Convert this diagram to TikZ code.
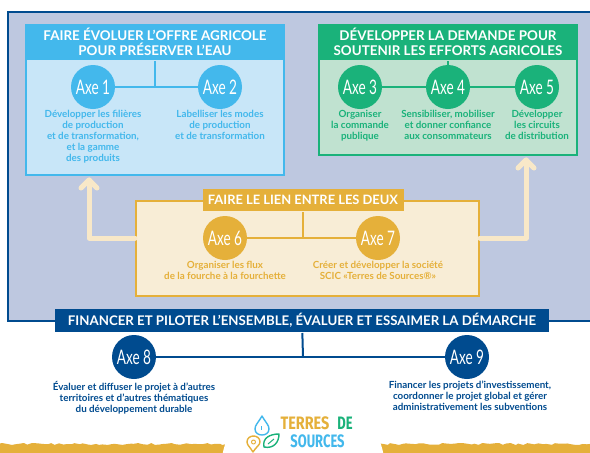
\documentclass[tikz,border=0pt]{standalone}
\usepackage{fontspec}
\setmainfont{Lato}
\newfontfamily\logofont{Fira Sans}
\usetikzlibrary{decorations.pathmorphing}
\definecolor{fond}{HTML}{BEC8E0}
\definecolor{marine}{HTML}{004B8F}
\definecolor{ciel}{HTML}{43B8EC}
\definecolor{cielclair}{HTML}{C8E6F8}
\definecolor{vert}{HTML}{1AB27A}
\definecolor{vertclair}{HTML}{C0E2D0}
\definecolor{jaune}{HTML}{E5B03A}
\definecolor{jauneclair}{HTML}{F8EDD6}
\definecolor{fleche}{HTML}{F8E8C8}
\newcommand{\axelabel}[1]{\scalebox{0.68}[1]{Axe #1}}

\begin{document}
\begin{tikzpicture}[x=1pt,y=-1pt]
    \tikzstyle{cadre} = [draw=marine,line width=2pt,fill=fond,inner sep=0pt]
    \tikzstyle{boite} = [line width=2pt,inner sep=0pt]
    \tikzstyle{titre} = [text=white,font=\fontsize{13.4}{13.4}\selectfont\bfseries,align=center,inner sep=0pt]
    \tikzstyle{axe} = [circle,minimum size=44pt,inner sep=0pt,text=white,font=\fontsize{20}{20}\selectfont]
    \tikzstyle{desc} = [align=center,inner sep=0pt,font=\fontsize{9.8}{11}\selectfont\bfseries]
    \tikzstyle{lien} = [line width=2pt]
    \tikzstyle{fl} = [line width=5pt,draw=fleche,line join=round,line cap=round]
    \tikzstyle{logo} = [inner sep=0pt,font=\logofont\fontsize{18}{18}\selectfont\bfseries]
    \tikzstyle{icone} = [line width=1.4pt,line join=round]

    \clip (0,0) rectangle (590,453);
    \fill[white] (0,0) rectangle (590,453);

    % herbe et logo
    \pgfmathsetseed{12}
    \fill[jaune,decorate,decoration={random steps,segment length=4pt,amplitude=1pt}]
        (-5,444) -- (595,444) -- (595,460) -- (-5,460) -- cycle;
    \fill[white] (303,470) circle (82);

    \node[cadre,minimum width=600pt,minimum height=309pt] (cadre) at (308,166) {};

    % les trois boites
    \node[boite,draw=ciel,fill=cielclair,minimum width=258pt,minimum height=150pt] (bleu) at (155,100) {};
    \node[boite,fill=ciel,minimum width=260pt,minimum height=36pt] (titrebleu) at (155,42) {};
    \node[titre] at (titrebleu) {FAIRE ÉVOLUER L'OFFRE AGRICOLE\\[1pt]POUR PRÉSERVER L'EAU};

    \node[boite,draw=vert,fill=vertclair,minimum width=258pt,minimum height=130pt] (vert) at (448,90) {};
    \node[boite,fill=vert,minimum width=260pt,minimum height=36pt] (titrevert) at (448,42) {};
    \node[titre] at (titrevert) {DÉVELOPPER LA DEMANDE POUR\\[1pt]SOUTENIR LES EFFORTS AGRICOLES};

    \node[boite,draw=jaune,fill=jauneclair,minimum width=343pt,minimum height=95pt] (lien) at (307.5,248.5) {};
    \node[boite,fill=jaune,minimum width=201pt,minimum height=22pt] (titrelien) at (303,200) {};
    \node[titre,font=\fontsize{12.9}{12.9}\selectfont\bfseries] at (titrelien) {FAIRE LE LIEN ENTRE LES DEUX};

    \node[boite,fill=marine,minimum width=494pt,minimum height=23pt] (titrebas) at (302,320.5) {};
    \node[titre,font=\fontsize{13.25}{13.25}\selectfont\bfseries] at (titrebas) {FINANCER ET PILOTER L'ENSEMBLE, ÉVALUER ET ESSAIMER LA DÉMARCHE};

    % les axes
    \node[axe,fill=ciel] (1) at (93,87) {\axelabel{1}};
    \node[axe,fill=ciel] (2) at (220,87) {\axelabel{2}};
    \node[axe,fill=vert] (3) at (360,87) {\axelabel{3}};
    \node[axe,fill=vert] (4) at (448,87) {\axelabel{4}};
    \node[axe,fill=vert] (5) at (537,87) {\axelabel{5}};
    \node[axe,fill=jaune] (6) at (225,238) {\axelabel{6}};
    \node[axe,fill=jaune] (7) at (378,238) {\axelabel{7}};
    \node[axe,fill=marine] (8) at (134,357) {\axelabel{8}};
    \node[axe,fill=marine] (9) at (467,357) {\axelabel{9}};

    \coordinate (j1) at (155,87);
    \coordinate (j2) at (303,238);
    \coordinate (j3) at (303,357);
    \coordinate (pointeG) at (89,180);
    \coordinate (pointeD) at (526,160);

    \draw[lien,draw=ciel]  (1) edge (2);
    \draw[lien,draw=ciel]  (titrebleu) edge (j1);
    \draw[lien,draw=vert]  (3) edge (4);
    \draw[lien,draw=vert]  (4) edge (5);
    \draw[lien,draw=vert]  (titrevert) edge (4);
    \draw[lien,draw=jaune]  (6) edge (7);
    \draw[lien,draw=jaune]  (titrelien) edge (j2);
    \draw[lien,draw=marine]  (8) edge (9);
    \draw[lien,draw=marine]  (titrebas) edge (j3);

    % les fleches
    \draw[fl] (lien.west |- 6) -| (pointeG);
    \draw[fl] (pointeG) -- ++(-8,8) (pointeG) -- ++(8,8);
    \draw[fl] (lien.east |- 6) -| (pointeD);
    \draw[fl] (pointeD) -- ++(-8,8) (pointeD) -- ++(8,8);

    % les textes
    \node[desc,text=ciel,anchor=north] (d1) at (93,110) {Développer les filières\\de production\\et de transformation,\\et la gamme\\des produits};
    \node[desc,text=ciel,anchor=north] (d2) at (220,110) {Labelliser les modes\\de production\\et de transformation};
    \node[desc,text=vert,anchor=north] (d3) at (360,110) {Organiser\\la commande\\publique};
    \node[desc,text=vert,anchor=north] (d4) at (448,110) {Sensibiliser, mobiliser\\et donner confiance\\aux consommateurs};
    \node[desc,text=vert,anchor=north] (d5) at (537,110) {Développer\\les circuits\\de distribution};
    \node[desc,text=jaune,anchor=north] (d6) at (225,261) {Organiser les flux\\de la fourche à la fourchette};
    \node[desc,text=jaune,anchor=north] (d7) at (378,261) {Créer et développer la société\\SCIC «Terres de Sources®»};
    \node[desc,text=marine,anchor=north] (d8) at (134,381) {Évaluer et diffuser le projet à d'autres\\territoires et d'autres thématiques\\du développement durable};
    \node[desc,text=marine,anchor=north] (d9) at (470,381) {Financer les projets d'investissement,\\coordonner le projet global et gérer\\administrativement les subventions};

    % logo
    \draw[icone,ciel] (262,416) .. controls (258,423) and (255,425) .. (255,429) .. controls (255,437) and (269,437) .. (269,429) .. controls (269,425) and (266,423) .. (262,416) -- cycle;
    \draw[icone,ciel,line width=1pt] (261,426) -- (261,430);
    \draw[icone,jaune] (253,452) .. controls (250,447) and (247,445) .. (247,442) .. controls (247,434) and (260,434) .. (260,442) .. controls (260,445) and (256,447) .. (253,452) -- cycle;
    \draw[icone,jaune,line width=1pt] (253.5,442) circle (2);
    \draw[icone,vert] (264,447) .. controls (262,438) and (270,434) .. (279,434) .. controls (279,442) and (274,449) .. (264,447) -- cycle;
    \draw[icone,vert,line width=1pt] (268,444) -- (274,439);
    \node[logo,text=jaune] (terres) at (305,423) {\scalebox{0.8}[1]{TERRES}};
    \node[logo,text=vert] (de) at (345,423) {\scalebox{0.72}[1]{DE}};
    \node[logo,text=ciel] (sources) at (317.5,441.5) {\scalebox{0.72}[1]{SOURCES}};
\end{tikzpicture}
\end{document}
